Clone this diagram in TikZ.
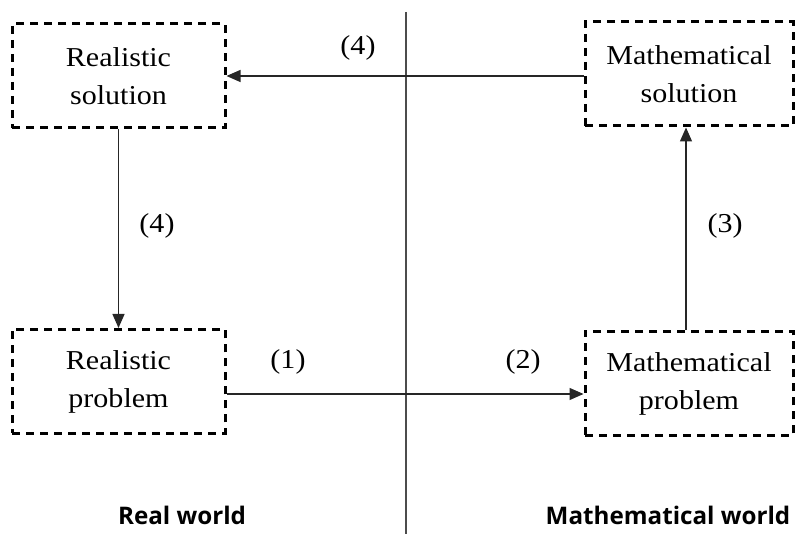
\documentclass[tikz,border=0pt]{standalone}
\usepackage{fontspec}
\setmainfont{Liberation Serif}[FakeStretch=1.1]
\newfontfamily\worldfont{Open Sans}
\usetikzlibrary{arrows.meta}
\tikzset{
  box/.style={draw=black, line width=3pt, dash pattern=on 8pt off 6pt,
    minimum height=104pt, inner sep=0pt, align=center,
    font=\fontsize{27.3}{38}\selectfont},
  conn/.style={line width=1.3pt, draw=black!85,
    -{Triangle[length=14pt,width=12pt]}},
  lab/.style={font=\fontsize{27.3}{30}\selectfont},
  world/.style={font=\worldfont\bfseries\fontsize{24.2}{28}\selectfont, anchor=base}
}
\begin{document}
\begin{tikzpicture}[x=1pt,y=1pt]
\useasboundingbox (0,0) rectangle (797,534);
% divider
\coordinate (dtop) at (406,522);
\coordinate (dbot) at (406,0);
\draw[line width=1.5pt, black!70] (dtop) -- (dbot);
% boxes
\node[box, minimum width=213pt] (RS) at (118.5,458) {Realistic\\solution};
\node[box, minimum width=208pt] (MS) at (689,460) {Mathematical\\solution};
\node[box, minimum width=213pt] (RP) at (118.5,152.5) {Realistic\\problem};
\node[box, minimum width=208pt] (MP) at (689,150.5) {Mathematical\\problem};
% connectors
\draw[conn] (MS.west |- RS.east) -- (RS.east);
\draw[conn] (RS.south) -- (RP.north);
\draw[conn] ([yshift=-12.5pt]RP.east) -- ([yshift=-12.5pt]RP.east -| MP.west);
\draw[conn] ([xshift=-3pt]MP.north) -- ([xshift=-3pt]MS.south);
% labels
\node[lab] (l4a) at (358,486) {(4)};
\node[lab] (l4b) at (157,308) {(4)};
\node[lab] (l3) at (725,308) {(3)};
\node[lab] (l1) at (288,172) {(1)};
\node[lab] (l2) at (523,172) {(2)};
\node[world] (rw) at (182,9) {Real world};
\node[world] (mw) at (668,9) {Mathematical world};
\end{tikzpicture}
\end{document}
